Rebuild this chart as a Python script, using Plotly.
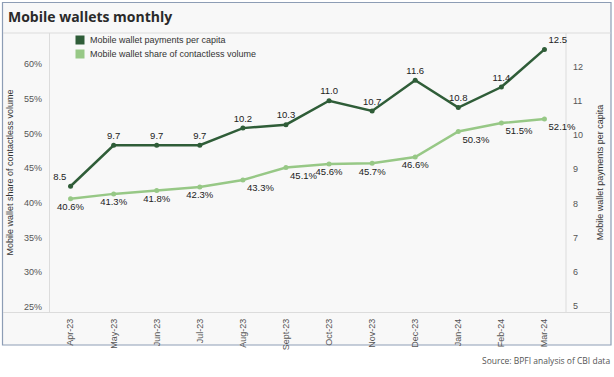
import plotly.graph_objects as go

months = ["Apr-23", "May-23", "Jun-23", "Jul-23", "Aug-23", "Sept-23",
          "Oct-23", "Nov-23", "Dec-23", "Jan-24", "Feb-24", "Mar-24"]
payments_per_capita = [8.5, 9.7, 9.7, 9.7, 10.2, 10.3, 11.0, 10.7, 11.6, 10.8, 11.4, 12.5]
share_contactless = [40.6, 41.3, 41.8, 42.3, 43.3, 45.1, 45.6, 45.7, 46.6, 50.3, 51.5, 52.1]

left_ticks = [25, 30, 35, 40, 45, 50, 55, 60]
right_ticks = [5, 6, 7, 8, 9, 10, 11, 12]

series_names = ["Mobile wallet payments per capita", "Mobile wallet share of contactless volume"]

DARK = "#2f5d38"
LIGHT = "#97c886"

W, H = 614, 377
ML, MR, MT, MB = 49, 48, 33, 65
PW, PH = W - ML - MR, H - MT - MB


def px(x):
    return (x - ML) / PW


def py(y):
    return (H - MB - y) / PH


dark_pos = ["top center"] * len(months)
dark_pos[0] = "top left"
dark_pos[-1] = "top right"
light_pos = ["bottom center"] * len(months)
for i in (4, 5, 9, 10, 11):
    light_pos[i] = "bottom right"

fig = go.Figure()

fig.add_trace(go.Scatter(
    x=months, y=share_contactless, mode="lines+markers+text", name=series_names[1],
    line=dict(color=LIGHT, width=2.5), marker=dict(color=LIGHT, size=5),
    text=[f"{v:.1f}%" for v in share_contactless], textposition=light_pos,
    textfont=dict(family="Liberation Sans, Arial", size=9.5, color="#222"),
    showlegend=False, cliponaxis=False, yaxis="y"))

fig.add_trace(go.Scatter(
    x=months, y=payments_per_capita, mode="lines+markers+text", name=series_names[0],
    line=dict(color=DARK, width=2.5), marker=dict(color=DARK, size=5),
    text=[f"{v:.1f}" for v in payments_per_capita], textposition=dark_pos,
    textfont=dict(family="Liberation Sans, Arial", size=9.5, color="#222"),
    showlegend=False, cliponaxis=False, yaxis="y2"))

line_col = "#dcdcdc"
shapes = [
    dict(type="rect", xref="paper", yref="paper", x0=px(2.5), x1=px(611), y0=py(2.5), y1=py(345),
         line=dict(color="#8d9db5", width=1.2), fillcolor="#f8f8f8", layer="below"),
    dict(type="line", xref="paper", yref="paper", x0=px(3), x1=px(610.5), y0=py(33), y1=py(33),
         line=dict(color=line_col, width=1), layer="below"),
    dict(type="line", xref="paper", yref="paper", x0=px(3), x1=px(610.5), y0=py(312.5), y1=py(312.5),
         line=dict(color=line_col, width=1), layer="below"),
    dict(type="line", xref="paper", yref="paper", x0=px(49.5), x1=px(49.5), y0=py(33), y1=py(312.5),
         line=dict(color=line_col, width=1), layer="below"),
    dict(type="line", xref="paper", yref="paper", x0=px(566), x1=px(566), y0=py(33), y1=py(312.5),
         line=dict(color=line_col, width=1), layer="below"),
]

annotations = [
    dict(text="<b>Mobile wallets monthly</b>", xref="paper", yref="paper", x=px(6), y=py(17),
         xanchor="left", yanchor="middle", showarrow=False,
         font=dict(family="Open Sans", size=14, color="#2a2a2a")),
    dict(text="Source: BPFI analysis of CBI data", xref="paper", yref="paper", x=px(612), y=py(360),
         xanchor="right", yanchor="middle", showarrow=False,
         font=dict(family="Open Sans", size=8.5, color="#555")),
]

# legend: square swatches with labels
for i, (name, col) in enumerate(zip(series_names, [DARK, LIGHT])):
    yc = 40 + 14 * i
    shapes.append(dict(type="rect", xref="paper", yref="paper", x0=px(75.5), x1=px(84.5),
                       y0=py(yc - 4.5), y1=py(yc + 4.5), line=dict(width=0), fillcolor=col))
    annotations.append(dict(text=name, xref="paper", yref="paper", x=px(88), y=py(yc),
                            xanchor="left", yanchor="middle", showarrow=False,
                            font=dict(family="Liberation Sans, Arial", size=9, color="#333")))

tickfont = dict(family="Liberation Sans, Arial", size=9, color="#555")
titlefont = dict(family="Liberation Sans, Arial", size=9, color="#333")

fig.update_layout(
    width=W, height=H,
    margin=dict(l=ML, r=MR, t=MT, b=MB, autoexpand=False),
    paper_bgcolor="white", plot_bgcolor="rgba(0,0,0,0)",
    shapes=shapes, annotations=annotations, showlegend=False,
    xaxis=dict(type="category", range=[-0.5, 11.5], tickangle=-90, tickfont=tickfont,
               showgrid=False, zeroline=False, showline=False, ticks="", ticklabelstandoff=4),
    yaxis=dict(range=[24.28, 64.48], tickvals=left_ticks, ticktext=[f"{v}%" for v in left_ticks],
               tickfont=tickfont, showgrid=False, zeroline=False, showline=False, ticks="",
               ticklabelstandoff=6,
               title=dict(text="Mobile wallet share of contactless volume", font=titlefont, standoff=8)),
    yaxis2=dict(range=[4.825, 12.98], tickvals=right_ticks, overlaying="y", side="right",
                tickfont=tickfont, showgrid=False, zeroline=False, showline=False, ticks="",
                ticklabelstandoff=6,
                title=dict(text="Mobile wallet payments per capita", font=titlefont, standoff=14)),
)

fig.write_html("out.html", config={"displayModeBar": False},
               post_script="document.body.style.margin='0';document.body.style.overflow='hidden';")
